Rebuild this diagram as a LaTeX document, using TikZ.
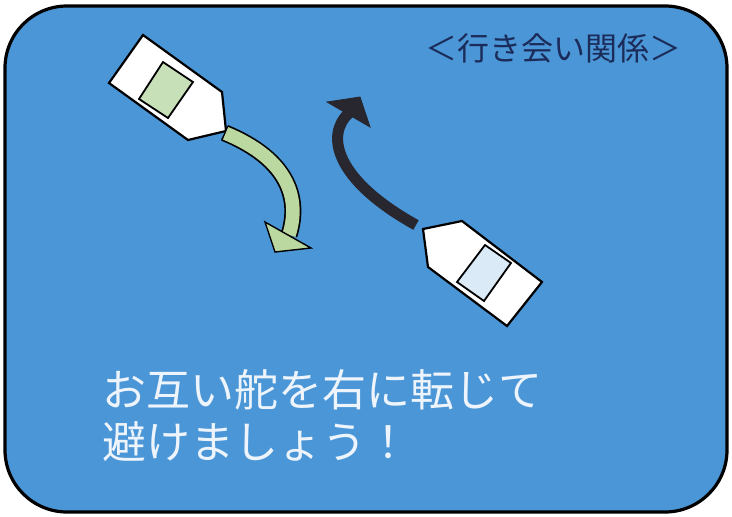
\documentclass[tikz,border=0pt]{standalone}
\usepackage{fontspec}
\newfontfamily\jpfont{Noto Sans CJK JP}
\definecolor{sea}{RGB}{74,150,214}
\definecolor{winG}{RGB}{200,224,184}
\definecolor{winB}{RGB}{218,234,246}
\definecolor{arrG}{RGB}{186,216,160}
\definecolor{arrK}{RGB}{40,38,46}
\definecolor{titleC}{RGB}{28,44,90}
\definecolor{msgC}{RGB}{238,244,252}
\tikzset{
  hull/.style={draw=black, line width=2.2pt, fill=white, line join=miter},
  window/.style={draw=black, line width=1.8pt},
  ghead/.style={draw=black, line width=1.4pt, fill=arrG, line join=miter},
  khead/.style={fill=arrK, draw=arrK, line width=0.8pt, line join=miter},
}
\begin{document}
\begin{tikzpicture}[x=1pt,y=-1pt]
\useasboundingbox (0,0) rectangle (732,517);
% background panel
\node[draw=black, line width=3.2pt, fill=sea, rounded corners=62pt,
      minimum width=722pt, minimum height=506pt, inner sep=0pt] (panel) at (366,259) {};
% title
\node[inner sep=0pt, text=titleC, font=\jpfont\fontsize{32}{36}\selectfont] (title) at (553,48) {＜行き会い関係＞};
% ship 1
\draw[hull] (109,83) -- (143,35) -- (222,92) -- (226,131) -- (188,140) -- cycle;
\draw[window, fill=winG] (163,62) -- (193,82) -- (168,118) -- (139,99) -- cycle;
\coordinate (s1bow) at (225,133);
% ship 2
\draw[hull] (423,229) -- (462,221) -- (542,282) -- (507,326) -- (428,267) -- cycle;
\draw[window, fill=winB] (485,245) -- (511,263) -- (484,301) -- (457,282) -- cycle;
\coordinate (s2bow) at (416,225);
% green arrow
\coordinate (gEnd) at (289,235);
\draw[black, line width=17pt] (s1bow) .. controls (290,160) and (300,200) .. (gEnd);
\draw[black, line width=1.4pt] (221.5,140.4) -- (228.5,125.6);
\draw[arrG, line width=13.6pt] ([xshift=0.6pt,yshift=-0.3pt]s1bow) .. controls (290,160) and (300,200) .. (gEnd);
\draw[ghead] (265,222) -- (311,248) -- (275,252) -- cycle;
% black arrow
\coordinate (kEnd) at (349,113);
\draw[arrK, line width=11pt] (s2bow) .. controls (335,180) and (325,135) .. (kEnd);
\draw[khead] (327,102) -- (360,97) -- (370,127) -- cycle;
% message
\node[anchor=base west, inner sep=0pt, text=msgC, font=\jpfont\fontsize{44}{52}\selectfont] (msg1) at (102,406) {お互い舵を右に転じて};
\node[anchor=base west, inner sep=0pt, text=msgC, font=\jpfont\fontsize{44}{52}\selectfont] (msg2) at (102,458) {避けましょう！};
\end{tikzpicture}
\end{document}
